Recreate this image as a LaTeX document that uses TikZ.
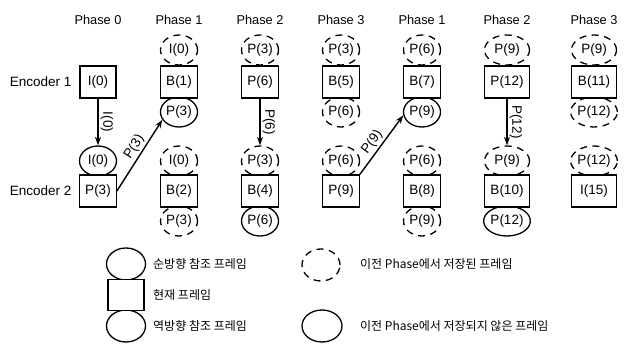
\documentclass[tikz,border=0pt]{standalone}
\usepackage{fontspec}
\setmainfont{Liberation Sans}
\newfontfamily\krfont{Noto Sans CJK KR}
\usetikzlibrary{shapes.geometric,arrows.meta}
\begin{document}
\begin{tikzpicture}[x=1pt,y=-1pt,
  txt/.style={font=\fontsize{13.5}{15}\selectfont},
  hdr/.style={font=\fontsize{12.8}{15}\selectfont},
  frame/.style={draw,line width=1.3pt,fill=white,minimum width=36pt,minimum height=32pt,inner xsep=5.5pt,inner ysep=0pt,txt},
  fwd/.style={ellipse,draw,line width=1.3pt,minimum width=37pt,minimum height=30pt,inner sep=0pt,txt},
  stored/.style={fwd,dash pattern=on 7pt off 5.5pt},
  wide/.style={minimum width=45pt},
  arr/.style={line width=1.4pt,-{Stealth[length=8.5pt,width=6pt]}},
  albl/.style={txt,inner sep=2pt},
  legtxt/.style={font=\krfont\fontsize{12}{14}\selectfont,anchor=west,inner sep=0pt}
]
\useasboundingbox (0,0) rectangle (630,347);

% phase headers
\foreach \x/\t [count=\i] in {98/Phase 0,179/Phase 1,260/Phase 2,341/Phase 3,422/Phase 1,507/Phase 2,594/Phase 3}
  \node[hdr] (h\i) at (\x,20) {\t};

\node[txt,anchor=east] (enc1) at (75,82) {Encoder 1};
\node[txt,anchor=east] (enc2) at (75,191) {Encoder 2};

% ---- ellipses (drawn first) ----
% Phase 0
\node[fwd] (b0t) at (98,161) {I(0)};
% Phase 1
\node[stored] (a1t) at (179,50) {I(0)};
\node[fwd] (a1b) at (179,112) {P(3)};
\node[stored] (b1t) at (179,161) {I(0)};
\node[stored] (b1b) at (179,221) {P(3)};
% Phase 2
\node[stored] (a2t) at (260,50) {P(3)};
\node[stored] (b2t) at (260,161) {P(3)};
\node[fwd] (b2b) at (260,221) {P(6)};
% Phase 3
\node[stored] (a3t) at (341,50) {P(3)};
\node[stored] (a3b) at (341,112) {P(6)};
\node[stored] (b3t) at (341,161) {P(6)};
% Phase 1'
\node[stored] (a4t) at (422,50) {P(6)};
\node[fwd] (a4b) at (422,112) {P(9)};
\node[stored] (b4t) at (422,161) {P(6)};
\node[stored] (b4b) at (422,221) {P(9)};
% Phase 2'
\node[stored,wide] (a5t) at (507,50) {P(9)};
\node[stored,wide] (b5t) at (507,161) {P(9)};
\node[fwd,wide] (b5b) at (507,221) {P(12)};
% Phase 3'
\node[stored,wide] (a6t) at (594,50) {P(9)};
\node[stored,wide] (a6b) at (594,112) {P(12)};
\node[stored,wide] (b6t) at (594,161) {P(12)};

% ---- current frames ----
\node[frame] (a0) at (98,82) {I(0)};
\node[frame] (b0) at (98,191) {P(3)};
\node[frame] (a1) at (179,82) {B(1)};
\node[frame] (b1) at (179,191) {B(2)};
\node[frame] (a2) at (260,82) {P(6)};
\node[frame] (b2) at (260,191) {B(4)};
\node[frame] (a3) at (341,82) {B(5)};
\node[frame] (b3) at (341,191) {P(9)};
\node[frame] (a4) at (422,82) {B(7)};
\node[frame] (b4) at (422,191) {B(8)};
\node[frame,wide] (a5) at (507,82) {P(12)};
\node[frame,wide] (b5) at (507,191) {B(10)};
\node[frame,wide] (a6) at (594,82) {B(11)};
\node[frame,wide] (b6) at (594,191) {I(15)};

% ---- arrows ----
\draw[arr] (a0.south) -- (b0t.north) node[midway,rotate=-90,anchor=south,albl] {I(0)};
\draw[arr] (a2.south) -- (b2t.north) node[midway,rotate=-90,anchor=south,albl] {P(6)};
\draw[arr] (a5.south) -- (b5t.north) node[midway,rotate=-90,anchor=south,albl] {P(12)};
\draw[arr] (b0.east) -- (a1b.205) node[pos=0.55,sloped,above,albl] {P(3)};
\draw[arr] (b3.north east) -- (a4b.190) node[pos=0.45,sloped,above,albl] {P(9)};

% ---- legend ----
\node[fwd,minimum width=39pt,minimum height=32pt] (lf) at (126,264) {};
\node[fwd,minimum width=39pt,minimum height=32pt] (lb) at (126,326) {};
\node[frame,minimum width=36pt,minimum height=31pt] (lc) at (126,295) {};
\node[legtxt] (tf) at (153,264) {순방향 참조 프레임};
\node[legtxt] (tc) at (153,295) {현재 프레임};
\node[legtxt] (tb) at (153,326) {역방향 참조 프레임};
\node[stored,minimum width=38pt,minimum height=32pt] (ls) at (321,265) {};
\node[fwd,minimum width=40pt,minimum height=32pt] (ln) at (322,326) {};
\node[legtxt] (ts) at (360,264) {이전 Phase에서 저장된 프레임};
\node[legtxt] (tn) at (360,326) {이전 Phase에서 저장되지 않은 프레임};
\end{tikzpicture}
\end{document}
